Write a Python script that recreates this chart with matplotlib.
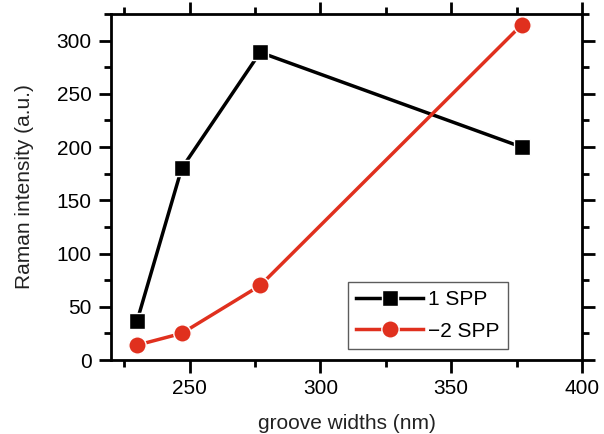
import matplotlib
matplotlib.use("Agg")
import matplotlib.pyplot as plt
from matplotlib.ticker import MultipleLocator

plt.rcParams['font.family'] = ['Liberation Sans', 'DejaVu Sans']

widths = [230, 247, 277, 377]
spp1 = [37, 180, 289, 200]
spp2 = [14, 25, 70, 315]

fig = plt.figure(figsize=(6.04, 4.34), dpi=100)
ax = fig.add_axes([0.1838, 0.1705, 0.7798, 0.7972])

ax.plot(widths, spp1, color='black', lw=2.5, marker='s', ms=11, mec='white', mew=1.0,
        mfc='black', label='1 SPP', zorder=3)
ax.plot(widths, spp2, color='#E0301E', lw=2.5, marker='o', ms=12.5, mec='white', mew=1.0,
        mfc='#E0301E', label='\u22122 SPP', zorder=3)

ax.set_xlim(220, 400)
ax.set_ylim(0, 325)
ax.xaxis.set_major_locator(MultipleLocator(50))
ax.xaxis.set_minor_locator(MultipleLocator(25))
ax.yaxis.set_major_locator(MultipleLocator(50))
ax.yaxis.set_minor_locator(MultipleLocator(25))
ax.tick_params(which='both', direction='out', top=True, right=True, width=2, labelsize=15, colors='black')
ax.tick_params(which='major', length=9)
ax.tick_params(which='minor', length=5)
ax.tick_params(axis='x', labeltop=False, pad=5)
ax.tick_params(axis='y', labelright=False, pad=5)
for s in ax.spines.values():
    s.set_linewidth(2)

ax.set_xlabel('groove widths (nm)', fontsize=15, color='#222222', labelpad=11)
ax.set_ylabel('Raman intensity (a.u.)', fontsize=15, color='#222222', labelpad=16)

leg = ax.legend(loc='lower right', bbox_to_anchor=(0.843, 0.032), borderaxespad=0,
                fontsize=15, frameon=True, fancybox=False, edgecolor='#333333',
                handlelength=3.2, borderpad=0.4, labelspacing=0.6, handletextpad=0.25)
leg.get_frame().set_linewidth(1.0)

fig.savefig('out.png', dpi=100)
